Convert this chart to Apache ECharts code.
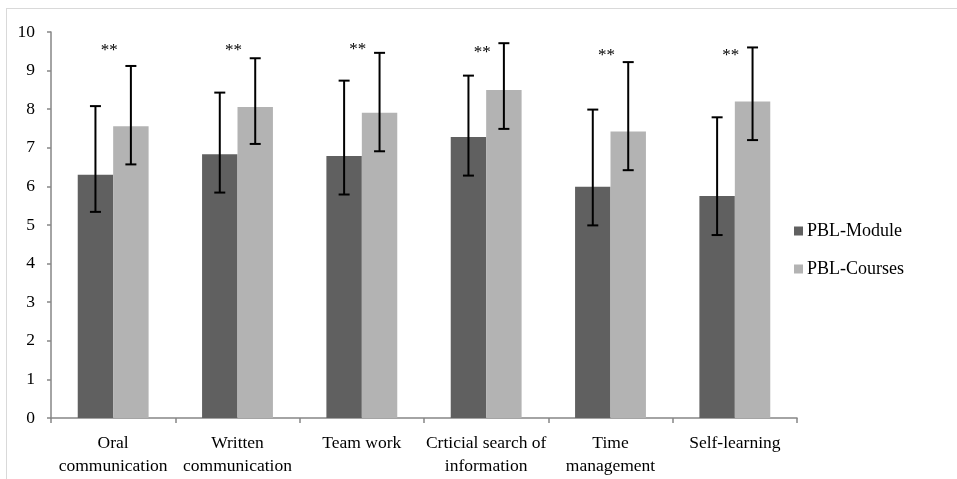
<!DOCTYPE html>
<html>
<head>
<meta charset="utf-8">
<script src="https://cdn.jsdelivr.net/npm/echarts@6/dist/echarts.min.js"></script>
<style>
  html, body { margin: 0; padding: 0; background: #fff; }
  #frame { position: absolute; left: 6px; top: 8px; width: 960px; height: 480px;
           border-left: 1px solid #d9d9d9; border-top: 1px solid #d9d9d9; }
  #chart { width: 957px; height: 479px; }
</style>
</head>
<body>
<div id="frame"></div>
<div id="chart"></div>
<script>
// Skill categories (two-line labels)
const categories = [
  'Oral\ncommunication',
  'Written\ncommunication',
  'Team work',
  'Crticial search of\ninformation',
  'Time\nmanagement',
  'Self-learning'
];

// Mean scores
const moduleMeans = [6.30, 6.83, 6.79, 7.28, 5.99, 5.75];
const courseMeans = [7.56, 8.06, 7.91, 8.50, 7.42, 8.20];

// Error bar bounds (lower, upper)
const moduleLow  = [5.34, 5.84, 5.79, 6.28, 4.99, 4.74];
const moduleHigh = [8.08, 8.43, 8.74, 8.87, 7.99, 7.79];
const courseLow  = [6.57, 7.10, 6.91, 7.49, 6.42, 7.20];
const courseHigh = [9.12, 9.32, 9.46, 9.71, 9.22, 9.60];

// Significance markers
const sigMarks  = ['**', '**', '**', '**', '**', '**'];
const sigLevels = [9.52, 9.52, 9.55, 9.48, 9.38, 9.38];

const yTicks = [0, 1, 2, 3, 4, 5, 6, 7, 8, 9, 10];

const FONT = '"Liberation Serif", "Times New Roman", serif';
const CATEGORY_GAP = 0.43;

function errorRenderer(side) {
  return function (params, api) {
    const band = api.size([1, 0])[0];
    const barW = band * (1 - CATEGORY_GAP) / 2;
    const dx = side * barW / 2;
    const lo = api.coord([api.value(0), api.value(1)]);
    const hi = api.coord([api.value(0), api.value(2)]);
    const x = lo[0] + dx;
    const cap = 5.5;
    const style = { stroke: '#000', lineWidth: 2 };
    return {
      type: 'group',
      children: [
        { type: 'line', shape: { x1: x, y1: hi[1], x2: x, y2: lo[1] }, style },
        { type: 'line', shape: { x1: x - cap, y1: hi[1], x2: x + cap, y2: hi[1] }, style },
        { type: 'line', shape: { x1: x - cap, y1: lo[1], x2: x + cap, y2: lo[1] }, style }
      ]
    };
  };
}

const chart = echarts.init(document.getElementById('chart'), null, { renderer: 'canvas' });

chart.setOption({
  backgroundColor: 'transparent',
  animation: false,
  textStyle: { fontFamily: FONT },
  grid: { left: 51, right: 160, top: 32, bottom: 61, containLabel: false },
  legend: {
    orient: 'vertical',
    left: 794,
    top: 222,
    padding: 0,
    itemWidth: 9,
    itemHeight: 9,
    itemGap: 20,
    icon: 'rect',
    data: ['PBL-Module', 'PBL-Courses'],
    textStyle: { fontFamily: FONT, fontSize: 18, color: '#000', padding: [0, 0, 0, -1] }
  },
  xAxis: {
    type: 'category',
    data: categories,
    axisLine: { lineStyle: { color: '#868686', width: 1.5 } },
    axisTick: { show: true, alignWithLabel: false, length: 5, lineStyle: { color: '#868686', width: 1.5 } },
    axisLabel: {
      interval: 0,
      margin: 14,
      fontFamily: FONT,
      fontSize: 17.5,
      color: '#000',
      lineHeight: 23
    }
  },
  yAxis: {
    type: 'value',
    min: 0,
    max: 10,
    interval: 1,
    splitLine: { show: false },
    axisLine: { show: true, lineStyle: { color: '#868686', width: 1.5 } },
    axisTick: { show: true, length: 4, lineStyle: { color: '#868686', width: 1.5 } },
    axisLabel: {
      margin: 16,
      fontFamily: FONT,
      fontSize: 17.5,
      color: '#000',
      formatter: v => yTicks.includes(v) ? String(v) : ''
    }
  },
  series: [
    {
      name: 'PBL-Module',
      type: 'bar',
      data: moduleMeans,
      barGap: '0%',
      barCategoryGap: (CATEGORY_GAP * 100) + '%',
      itemStyle: { color: '#606060' }
    },
    {
      name: 'PBL-Courses',
      type: 'bar',
      data: courseMeans,
      barGap: '0%',
      barCategoryGap: (CATEGORY_GAP * 100) + '%',
      itemStyle: { color: '#b3b3b3' }
    },
    {
      type: 'custom',
      name: 'moduleErr',
      renderItem: errorRenderer(-1),
      data: moduleLow.map((v, i) => [i, v, moduleHigh[i]]),
      z: 10
    },
    {
      type: 'custom',
      name: 'courseErr',
      renderItem: errorRenderer(1),
      data: courseLow.map((v, i) => [i, v, courseHigh[i]]),
      z: 10
    },
    {
      type: 'custom',
      name: 'sig',
      renderItem: function (params, api) {
        const p = api.coord([api.value(0), api.value(1)]);
        return {
          type: 'text',
          x: p[0] - 4,
          y: p[1],
          style: {
            text: sigMarks[params.dataIndex],
            fontFamily: FONT,
            fontSize: 17,
            fill: '#000',
            align: 'center',
            verticalAlign: 'middle'
          }
        };
      },
      data: sigLevels.map((v, i) => [i, v]),
      z: 11
    }
  ]
});
</script>
</body>
</html>
